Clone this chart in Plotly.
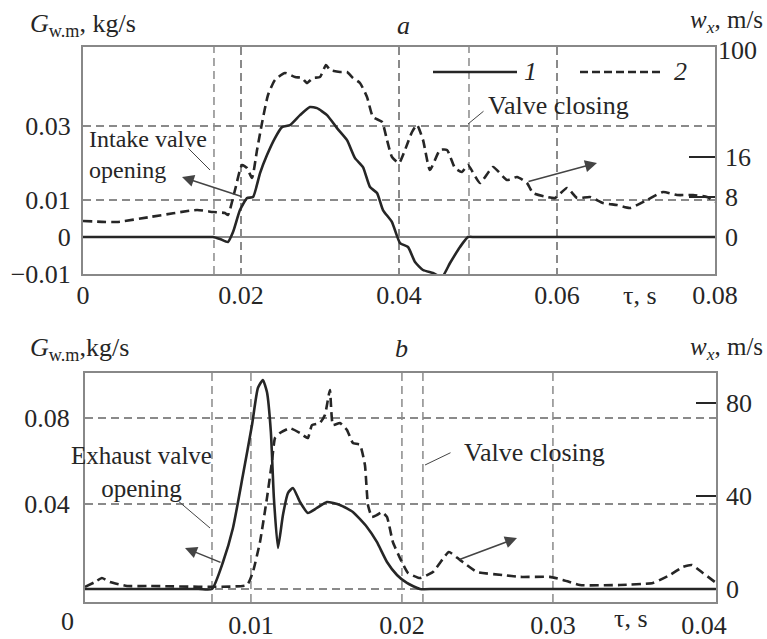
import plotly.graph_objects as go

# ---------------- data: panel a (intake) ----------------
TAU_A1 = [0, 0.01550, 0.01646, 0.01734, 0.01835, 0.01899, 0.01987, 0.02076, 0.02152, 0.02241, 0.02329,
          0.02430, 0.02519, 0.02620, 0.02747, 0.02873, 0.02962, 0.03089, 0.03215, 0.03342, 0.03443,
          0.03544, 0.03633, 0.03722, 0.03797, 0.03911, 0.04013, 0.04114, 0.04203, 0.04304, 0.04430,
          0.04544, 0.04646, 0.04772, 0.04873, 0.04960, 0.08]
G_A = [0, 0, 0, -0.00054, -0.00135, 0.00135, 0.00730, 0.01054, 0.01081, 0.01730, 0.02216,
       0.02676, 0.02973, 0.03027, 0.03297, 0.03514, 0.03486, 0.03297, 0.02946, 0.02622, 0.02135,
       0.01892, 0.01351, 0.01189, 0.00730, 0.00405, -0.00162, -0.00270, -0.00676, -0.00892, -0.00973,
       -0.01081, -0.00703, -0.00270, 0, 0, 0]

TAU_A2 = [0, 0.00430, 0.00848, 0.01443, 0.01646, 0.01797, 0.01835, 0.01924, 0.02013, 0.02076,
          0.02139, 0.02203, 0.02266, 0.02342, 0.02430, 0.02557, 0.02684, 0.02772, 0.02835, 0.02911,
          0.03000, 0.03076, 0.03127, 0.03253, 0.03342, 0.03418, 0.03506, 0.03595, 0.03671, 0.03785,
          0.03848, 0.03911, 0.04000, 0.04076, 0.04165, 0.04228, 0.04304, 0.04392, 0.04519, 0.04608,
          0.04709, 0.04797, 0.04873, 0.05025, 0.05190, 0.05367, 0.05494, 0.05620, 0.05696, 0.05873,
          0.05975, 0.06127, 0.06253, 0.06418, 0.06582, 0.06759, 0.06924, 0.07139, 0.07342, 0.07519,
          0.07722, 0.07899, 0.08000]
W_A = [3.2, 3.0, 4.0, 5.4, 5.0, 4.8, 4.4, 9.4, 14.4, 13.8,
       11.8, 17.4, 22.8, 28.4, 31.4, 32.8, 32.0, 31.8, 30.8, 31.8,
       32.0, 34.4, 33.4, 33.0, 33.0, 31.8, 30.8, 28.0, 24.0, 23.0,
       19.4, 16.0, 14.8, 17.4, 21.0, 22.4, 19.4, 13.4, 17.4, 17.4,
       13.8, 13.0, 14.4, 10.8, 14.0, 11.4, 12.0, 10.8, 8.8, 8.0,
       7.8, 9.8, 7.8, 8.0, 6.8, 6.4, 5.8, 7.4, 9.0, 8.4,
       8.4, 8.0, 7.0]

# ---------------- data: panel b (exhaust) ----------------
TAU_B1 = [-0.00099, 0.00650, 0.00742, 0.00815, 0.00881, 0.00947, 0.01007, 0.01046, 0.01079, 0.01106, 0.01132,
          0.01152, 0.01179, 0.01212, 0.01245, 0.01278, 0.01325, 0.01377, 0.01437, 0.01503, 0.01589,
          0.01675, 0.01768, 0.01834, 0.01901, 0.01967, 0.02033, 0.02119, 0.02220, 0.04079]
G_B = [0, 0, 0, 0.01263, 0.02855, 0.05335, 0.07674, 0.09406, 0.09780, 0.09219, 0.07347,
       0.04258, 0.01919, 0.03463, 0.04492, 0.04726, 0.04071, 0.03557, 0.03791, 0.04071, 0.03931,
       0.03603, 0.02902, 0.02200, 0.01264, 0.00655, 0.00281, 0, 0, 0]

TAU_B2 = [-0.00099, -0.00033, 0.00013, 0.00066, 0.00179, 0.00331, 0.00974, 0.01013, 0.01060, 0.01106,
          0.01139, 0.01159, 0.01192, 0.01258, 0.01325, 0.01377, 0.01404, 0.01457, 0.01490, 0.01523,
          0.01543, 0.01589, 0.01636, 0.01675, 0.01722, 0.01755, 0.01775, 0.01801, 0.01834, 0.01868,
          0.01901, 0.01940, 0.01987, 0.02040, 0.02119, 0.02205, 0.02311, 0.02384, 0.02497, 0.02669,
          0.02781, 0.02980, 0.03066, 0.03179, 0.03444, 0.03662, 0.03775, 0.03861, 0.03921, 0.03993,
          0.04073]
W_B = [0.9, 3.0, 4.7, 3.0, 1.3, 1.3, 1.7, 7.3, 20.2, 39.1,
       54.6, 64.9, 67.1, 69.2, 67.1, 64.9, 70.5, 71.4, 74.8, 85.6,
       70.5, 71.4, 68.4, 62.8, 62.0, 53.3, 36.1, 31.0, 31.8, 33.1,
       31.0, 20.2, 13.3, 6.9, 4.7, 7.3, 15.9, 12.5, 7.3, 6.0,
       5.2, 5.2, 3.9, 1.7, 1.7, 2.6, 6.0, 9.5, 10.3, 6.9,
       3.0]

# valve event lines and grid positions
VALVE_A = [0.01658, 0.04886]
VALVE_B = [0.00742, 0.02139]
GRID_B = [0.01, 0.02, 0.03]

# tick labels
XT_A = [0, 0.02, 0.04, 0.06, 0.08]
XL_A = ["0", "0.02", "0.04", "0.06", "0.08"]
YT_A = [-0.01, 0, 0.01, 0.03]
YL_A = ["\u22120.01", "0", "0.01", "0.03"]
Y2T_A = [0, 8, 16]
XT_B = [0.01, 0.02, 0.03, 0.04]
XL_B = ["0.01", "0.02", "0.03", "0.04"]
YT_B = [0, 0.04, 0.08]
YL_B = ["", "0.04", "0.08"]
Y2T_B = [0, 40, 80]
SERIES = ["1", "2"]

W, H = 767, 639
FONT = "Liberation Serif"
INK = "#262626"
GRID = "#8a8a8a"
FRAME = "#888888"
DASH = "8px,5px"
CDASH = "9px,5px"
FS = 26


def px(x):
    return x / W


def py(y):
    return 1 - y / H


fig = go.Figure()
fig.add_trace(go.Scatter(x=TAU_A1, y=G_A, xaxis="x", yaxis="y", mode="lines", showlegend=False,
                         line=dict(color=INK, width=2.6, shape="spline", smoothing=0.5)))
fig.add_trace(go.Scatter(x=TAU_A2, y=W_A, xaxis="x", yaxis="y2", mode="lines", showlegend=False,
                         line=dict(color=INK, width=2.6, dash=CDASH, shape="spline", smoothing=0.5)))
fig.add_trace(go.Scatter(x=TAU_B1, y=G_B, xaxis="x2", yaxis="y3", mode="lines", showlegend=False,
                         line=dict(color=INK, width=2.6, shape="spline", smoothing=0.5)))
fig.add_trace(go.Scatter(x=TAU_B2, y=W_B, xaxis="x2", yaxis="y4", mode="lines", showlegend=False,
                         line=dict(color=INK, width=2.6, dash=CDASH, shape="spline", smoothing=0.4)))

tickfont = dict(family=FONT, size=FS, color=INK)
common_x = dict(showline=True, mirror=True, linecolor=FRAME, linewidth=2, ticks="",
                tickfont=tickfont, zeroline=False, automargin=False)
common_y = dict(showline=True, mirror=True, linecolor=FRAME, linewidth=2, ticks="",
                tickfont=tickfont, automargin=False)

fig.update_layout(
    width=W, height=H, margin=dict(l=0, r=0, t=0, b=0),
    paper_bgcolor="white", plot_bgcolor="white", showlegend=False,
    font=dict(family=FONT, size=FS, color=INK),
    xaxis=dict(domain=[px(83), px(715)], anchor="y", range=[0, 0.08], tickvals=XT_A, ticktext=XL_A,
               showgrid=True, gridcolor=GRID, griddash=DASH, gridwidth=1.5, ticklabelstandoff=-3, **common_x),
    yaxis=dict(domain=[py(274), py(47)], anchor="x", range=[-0.01, 0.0514], tickvals=YT_A, ticktext=YL_A,
               showgrid=True, gridcolor=GRID, griddash=DASH, gridwidth=1.5,
               zeroline=True, zerolinecolor=GRID, zerolinewidth=1.6, ticklabelstandoff=5, **common_y),
    yaxis2=dict(overlaying="y", side="right", anchor="x", range=[-7.4, 38], tickvals=Y2T_A,
                showgrid=False, zeroline=False, showline=False, ticks="inside", ticklen=26,
                tickwidth=1.5, tickcolor=INK, tickfont=tickfont, ticklabelstandoff=9, automargin=False),
    xaxis2=dict(domain=[px(85), px(716)], anchor="y3", range=[-0.00099, 0.0408], tickvals=XT_B,
                ticktext=XL_B, showgrid=False, ticklabelstandoff=-1, **common_x),
    yaxis3=dict(domain=[py(602), py(373)], anchor="x2", range=[-0.0061, 0.1011], tickvals=YT_B,
                ticktext=YL_B, showgrid=True, gridcolor=GRID, griddash=DASH, gridwidth=1.5,
                zeroline=False, ticklabelstandoff=8, **common_y),
    yaxis4=dict(overlaying="y3", side="right", anchor="x2", range=[-5.6, 92.9], tickvals=Y2T_B,
                showgrid=False, zeroline=False, showline=False, ticks="inside", ticklen=20,
                tickwidth=1.5, tickcolor=INK, tickfont=tickfont, ticklabelstandoff=9, automargin=False),
)

shapes = []
for v in VALVE_A:
    shapes.append(dict(type="line", xref="x", yref="y domain", x0=v, x1=v, y0=0, y1=1, layer="below",
                       line=dict(color=GRID, width=1.5, dash=DASH)))
for v in VALVE_B + GRID_B:
    shapes.append(dict(type="line", xref="x2", yref="y3 domain", x0=v, x1=v, y0=0, y1=1, layer="below",
                       line=dict(color=GRID, width=1.5, dash=DASH)))
# legend keys (solid = series 1, dashed = series 2)
shapes.append(dict(type="line", xref="paper", yref="paper", x0=px(433), x1=px(517), y0=py(72), y1=py(72),
                   line=dict(color=INK, width=2.6)))
shapes.append(dict(type="line", xref="paper", yref="paper", x0=px(580), x1=px(664), y0=py(72), y1=py(72),
                   line=dict(color=INK, width=2.6, dash="8px,4px")))
fig.update_layout(shapes=shapes)

ann = []


def text(t, x, y, xanchor="center", size=FS, align="left"):
    ann.append(dict(text=t, xref="paper", yref="paper", x=px(x), y=py(y), xanchor=xanchor,
                    yanchor="middle", showarrow=False, align=align,
                    font=dict(family=FONT, size=size, color=INK)))


def arrow(hx, hy, tx, ty, head=2, width=1.5):
    ann.append(dict(text="", xref="paper", yref="paper", x=px(hx), y=py(hy), ax=tx - hx, ay=ty - hy,
                    axref="pixel", ayref="pixel", showarrow=True, arrowhead=head, arrowsize=1.6,
                    arrowwidth=width, arrowcolor="#444", standoff=0, startstandoff=0))


# panel a
text("<i>G</i><sub>w.m</sub>, kg/s", 28, 25, "left")
text("<i>a</i>", 403, 25)
text("<i>w<sub>x</sub></i>, m/s", 765, 21, "right", size=25)
text("100", 716, 50, "left")
text("<i>%s</i>" % SERIES[0], 530, 72)
text("<i>%s</i>" % SERIES[1], 680, 72)
text("Intake valve<br>opening", 87, 154, "left", size=24)
text("Valve closing", 486, 106, "left")
text("\u03c4, s", 640, 295)
arrow(182, 177, 243, 197)
arrow(597, 163, 527, 182)
arrow(210, 170, 187, 147, head=0, width=1)
arrow(468, 124, 485, 110, head=0, width=1)

# panel b
text("<i>G</i><sub>w.m</sub>,kg/s", 28, 349, "left")
text("<i>b</i>", 402, 348)
text("<i>w<sub>x</sub></i>, m/s", 765, 348, "right", size=25)
text("Exhaust valve<br>opening", 141, 472, "center", size=25, align="center")
text("Valve closing", 462, 452, "left")
text("\u03c4, s", 631, 618)
text("0", 67, 621)
arrow(185, 548, 222, 563)
arrow(517, 538, 458, 560)
arrow(210, 528, 177, 500, head=0, width=1)
arrow(425, 465, 452, 452, head=0, width=1)

fig.update_layout(annotations=ann)
fig.write_html("out.html")
